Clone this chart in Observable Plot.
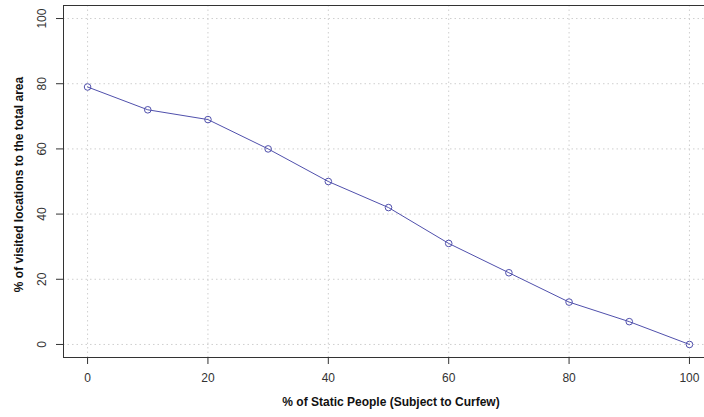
<!DOCTYPE html>
<html>
<head>
<meta charset="utf-8">
<script src="https://cdn.jsdelivr.net/npm/d3@7"></script>
<script src="https://cdn.jsdelivr.net/npm/@observablehq/plot@0.6"></script>
<style>
  html, body { margin: 0; padding: 0; background: #fff; }
  svg { display: block; }
</style>
</head>
<body>
<div id="chart"></div>
<script>
const staticPct = [0, 10, 20, 30, 40, 50, 60, 70, 80, 90, 100];
const visitedPct = [79, 72, 69, 60, 50, 42, 31, 22, 13, 7, 0];
const xTicks = [0, 20, 40, 60, 80, 100];
const yTicks = [0, 20, 40, 60, 80, 100];
const xTitle = "% of Static People (Subject to Curfew)";
const yTitle = "% of visited locations to the total area";

const data = staticPct.map((x, i) => ({x, y: visitedPct[i]}));
const col = "#5050ac";
const font = "Liberation Sans, Arial, sans-serif";

const chart = Plot.plot({
  width: 704,
  height: 417,
  marginLeft: 63,
  marginRight: 0,
  marginTop: 5,
  marginBottom: 60,
  style: {fontFamily: font, fontSize: "12px", color: "#222", background: "#fff"},
  x: {domain: [-4, 102.5]},
  y: {domain: [-4, 104]},
  marks: [
    Plot.gridX(xTicks, {stroke: "#cfcfcf", strokeOpacity: 1, strokeDasharray: "1.5,3"}),
    Plot.gridY(yTicks, {stroke: "#cfcfcf", strokeOpacity: 1, strokeDasharray: "1.5,3"}),
    Plot.ruleY([-4, 104], {stroke: "#333", strokeWidth: 1}),
    Plot.ruleX([-4], {stroke: "#333", strokeWidth: 1}),
    Plot.axisX(xTicks, {tickSize: 7, tickPadding: 9, label: null, stroke: "#333", fill: "#333", fontSize: 12}),
    Plot.axisY(yTicks, {tickSize: 7, tickFormat: () => "", label: null, stroke: "#333"}),
    Plot.text(yTicks, {x: -4, y: d => d, text: d => String(d), dx: -21, rotate: -90, textAnchor: "middle", fill: "#333", fontSize: 12}),
    Plot.line(data, {x: "x", y: "y", stroke: col, strokeWidth: 1}),
    Plot.dot(data, {x: "x", y: "y", r: 3.3, stroke: col, fill: "none", strokeWidth: 1}),
    Plot.text([xTitle], {frameAnchor: "bottom", dy: 48, dx: 7, text: d => d, textAnchor: "middle", fontWeight: "bold", fontSize: 12, fill: "#111"}),
    Plot.text([yTitle], {frameAnchor: "left", dx: -44, dy: 3, rotate: -90, text: d => d, textAnchor: "middle", fontWeight: "bold", fontSize: 12, fill: "#111"})
  ]
});
document.getElementById("chart").appendChild(chart);
</script>
</body>
</html>
